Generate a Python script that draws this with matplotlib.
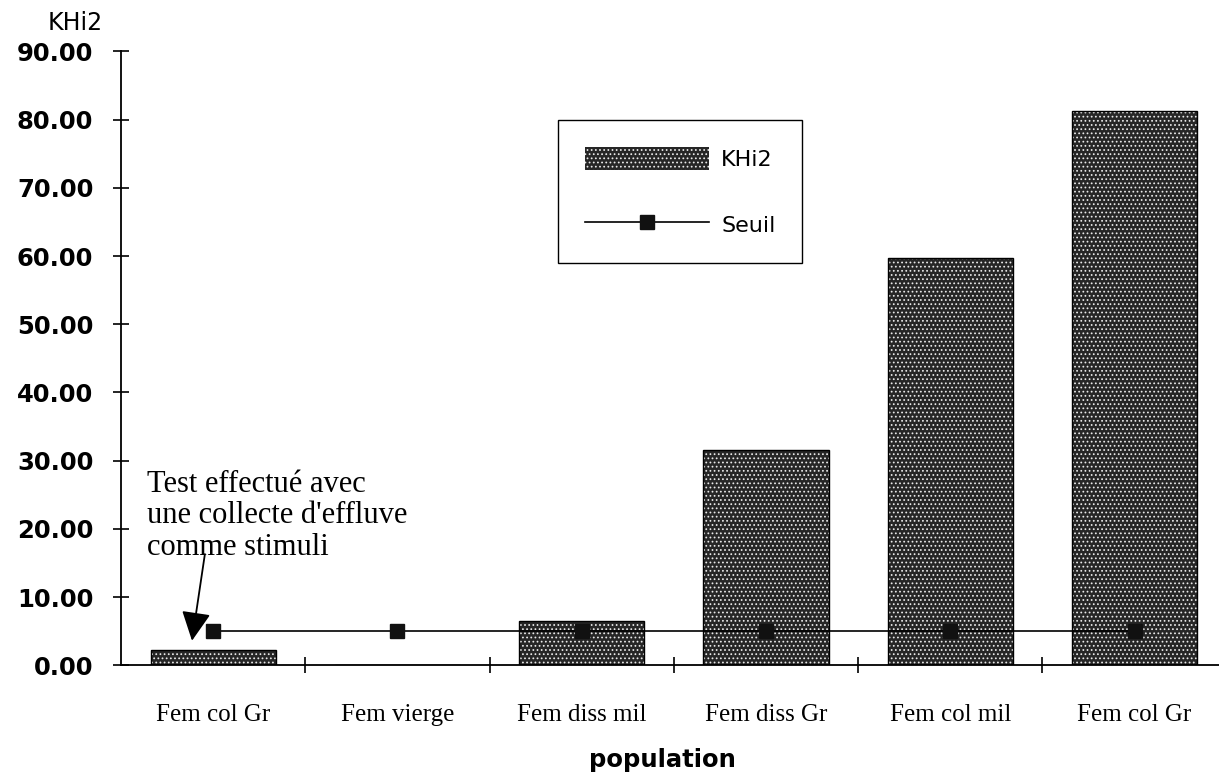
import matplotlib
matplotlib.use("Agg")
import matplotlib.pyplot as plt
import numpy as np
from matplotlib.patches import Patch
from matplotlib.lines import Line2D

# chi-square per population, and the significance threshold
populations = ["Fem col Gr", "Fem vierge", "Fem diss mil", "Fem diss Gr", "Fem col mil", "Fem col Gr"]
khi2 = [2.2, 0.0, 6.5, 31.6, 59.7, 81.2]
seuil = [5.0, 5.0, 5.0, 5.0, 5.0, 5.0]
yticks = [0, 10, 20, 30, 40, 50, 60, 70, 80, 90]

BAR_FACE = "#262626"
SANS = "DejaVu Sans"
SERIF = "Liberation Serif"

fig = plt.figure(figsize=(12.19, 7.77), dpi=100)
ax = fig.add_axes([0.0993, 0.1438, 0.907, 0.790])

x = np.arange(len(populations))
plt.rcParams["hatch.linewidth"] = 0.75

# stippled fill first, then a plain black outline on top
ax.bar(x, khi2, width=0.68, color=BAR_FACE, edgecolor="#e8e8e8", linewidth=0,
       hatch="....", zorder=2)
ax.bar(x, khi2, width=0.68, fill=False, edgecolor="black", linewidth=1.0, zorder=3)

ax.plot(x, seuil, color="black", linewidth=1.2, marker="s", markersize=10,
        markerfacecolor="#111111", markeredgecolor="#111111", zorder=4)

ax.set_xlim(-0.5, len(populations) - 0.5)
ax.set_ylim(0, 90)

for side in ("top", "right"):
    ax.spines[side].set_visible(False)
ax.spines["left"].set_linewidth(1.3)
ax.spines["bottom"].set_linewidth(1.3)

ax.set_yticks(yticks)
ax.set_yticklabels(["%.2f" % v for v in yticks], fontsize=17.5,
                   fontweight="bold", family=SANS)
ax.tick_params(axis="y", direction="inout", length=12, width=1.2, pad=14)

ax.set_xticks(x)
ax.set_xticklabels(populations, fontsize=18, family=SERIF)
ax.set_xticks(np.arange(0.5, len(populations) - 0.5, 1.0), minor=True)
ax.tick_params(axis="x", which="major", length=0, pad=28)
ax.tick_params(axis="x", which="minor", direction="inout", length=12, width=1.2)

fig.text(75 / 1219, 1 - 23 / 777, "KHi2", fontsize=17, family=SANS,
         ha="center", va="center")
fig.text(662 / 1219, 1 - 760 / 777, "population", fontsize=17.5,
         fontweight="bold", family=SANS, ha="center", va="center")

# note pointing at the first bar
ax.text(-0.36, 28.7, "Test effectué avec\nune collecte d'effluve\ncomme stimuli",
        fontsize=22, family=SERIF, ha="left", va="top", linespacing=1.12)
ax.annotate("", xy=(-0.115, 3.6), xytext=(-0.045, 16.3),
            arrowprops=dict(arrowstyle="-|>,head_length=0.9,head_width=0.45",
                            mutation_scale=20, color="black", linewidth=1.3,
                            shrinkA=0, shrinkB=0))

handles = [
    Patch(facecolor=BAR_FACE, edgecolor="#e8e8e8", linewidth=0, hatch="...."),
    Line2D([0], [0], color="black", linewidth=1.2, marker="s", markersize=10,
           markerfacecolor="#111111", markeredgecolor="#111111"),
]
leg = fig.legend(handles, ["KHi2", "Seuil"], loc="upper left",
                 bbox_to_anchor=(558 / 1219, 1 - 120 / 777),
                 prop={"family": SANS, "size": 16},
                 handlelength=5.6, handleheight=1.26, handletextpad=0.55,
                 labelspacing=1.9, borderpad=1.2, borderaxespad=0,
                 fancybox=False, framealpha=1, edgecolor="black")
leg.get_frame().set_linewidth(1.0)

fig.savefig("out.png", dpi=100)
